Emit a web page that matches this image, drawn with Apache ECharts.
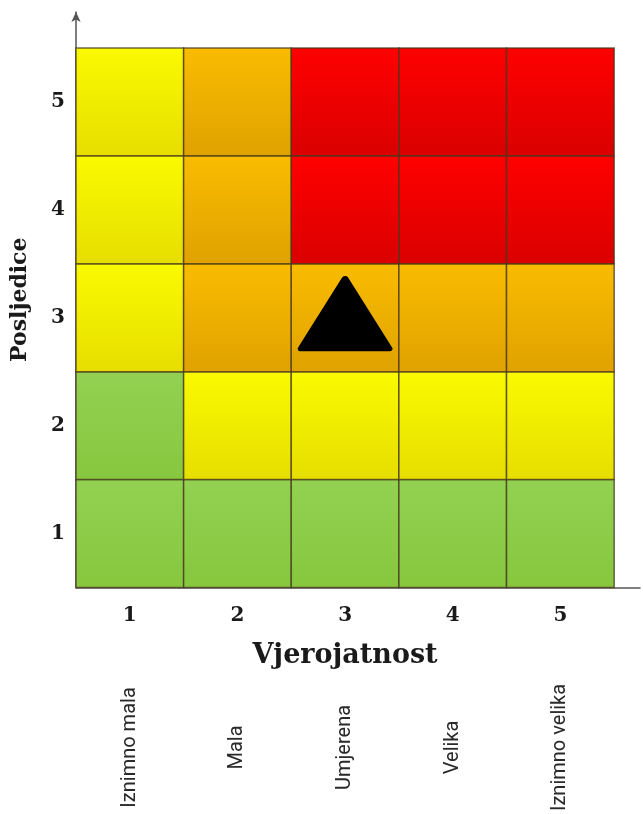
<!DOCTYPE html>
<html>
<head>
<meta charset="utf-8">
<script src="https://cdn.jsdelivr.net/npm/echarts@6/dist/echarts.min.js"></script>
<style>html,body{margin:0;padding:0;background:#fff;}#c{width:643px;height:814px;}</style>
</head>
<body>
<div id="c"></div>
<script>
// ---- data ----
const probabilityTicks = [1, 2, 3, 4, 5];
const consequenceTicks = [1, 2, 3, 4, 5];
const probabilityNames = ['Iznimno mala', 'Mala', 'Umjerena', 'Velika', 'Iznimno velika'];
// risk level per consequence row (1..5), columns = probability 1..5
const rowC1 = ['G', 'G', 'G', 'G', 'G'];
const rowC2 = ['G', 'Y', 'Y', 'Y', 'Y'];
const rowC3 = ['Y', 'O', 'O', 'O', 'O'];
const rowC4 = ['Y', 'O', 'R', 'R', 'R'];
const rowC5 = ['Y', 'O', 'R', 'R', 'R'];
const markerPoints = [[3, 3]];

const levelRows = [rowC1, rowC2, rowC3, rowC4, rowC5];
const cells = [];
levelRows.forEach((row, ci) => row.forEach((lvl, pi) => cells.push([probabilityTicks[pi], consequenceTicks[ci], lvl])));

const grad = (a, b) => new echarts.graphic.LinearGradient(0, 0, 0, 1, [{offset: 0, color: a}, {offset: 1, color: b}]);
const fills = {
  G: grad('#93d152', '#86c73e'),
  Y: grad('#fafa00', '#e6de00'),
  O: grad('#fabc00', '#dfa200'),
  R: grad('#ff0000', '#da0000')
};

const chart = echarts.init(document.getElementById('c'), null, {renderer: 'canvas'});
const serif = 'DejaVu Serif';
chart.setOption({
  animation: false,
  backgroundColor: '#fff',
  grid: {left: 76, right: 3, top: 12, bottom: 226, containLabel: false},
  xAxis: [{
    type: 'value', min: 0.5, max: 5.74,
    axisLine: {show: true, lineStyle: {color: '#555', width: 1.5}},
    axisTick: {show: false}, splitLine: {show: false},
    axisLabel: {customValues: probabilityTicks, margin: 18, fontFamily: serif, fontWeight: 'bold', fontSize: 20, color: '#1a1a1a'},
    name: 'Vjerojatnost', nameLocation: 'middle', nameGap: 55,
    nameTextStyle: {fontFamily: serif, fontWeight: 'bold', fontSize: 27, color: '#1a1a1a', padding: [0, 26, 0, 0]}
  }, {
    type: 'value', min: 0.5, max: 5.74, position: 'bottom',
    axisLine: {show: false}, axisTick: {show: false}, splitLine: {show: false},
    axisLabel: {
      customValues: probabilityTicks, rotate: 90, margin: 160, align: 'center', verticalAlign: 'middle',
      fontFamily: 'Roboto', fontSize: 20, color: '#2a2a2a',
      formatter: v => probabilityNames[probabilityTicks.indexOf(v)]
    }
  }],
  yAxis: {
    type: 'value', min: 0.5, max: 5.833,
    axisLine: {show: true, symbol: ['none', 'arrow'], symbolSize: [7, 10], lineStyle: {color: '#555', width: 1.5}},
    axisTick: {show: false}, splitLine: {show: false},
    axisLabel: {customValues: consequenceTicks, margin: 11, fontFamily: serif, fontWeight: 'bold', fontSize: 20, color: '#1a1a1a'},
    name: 'Posljedice', nameLocation: 'middle', nameGap: 45,
    nameTextStyle: {fontFamily: serif, fontWeight: 'bold', fontSize: 22, color: '#1a1a1a'}
  },
  series: [{
    type: 'custom',
    data: cells,
    renderItem: (params, api) => {
      const x = api.value(0), y = api.value(1);
      const p1 = api.coord([x - 0.5, y + 0.5]);
      const p2 = api.coord([x + 0.5, y - 0.5]);
      const lvl = cells[params.dataIndex][2];
      return {
        type: 'rect',
        shape: {x: p1[0], y: p1[1], width: p2[0] - p1[0], height: p2[1] - p1[1]},
        style: {fill: fills[lvl], stroke: 'rgba(70,55,30,0.75)', lineWidth: 1.5}
      };
    }
  }, {
    type: 'scatter',
    data: markerPoints,
    symbol: 'triangle',
    symbolSize: [88, 70],
    symbolOffset: [0, -4],
    itemStyle: {color: '#000', borderColor: '#000', borderWidth: 6, borderJoin: 'round', opacity: 1},
    z: 5
  }]
});
</script>
</body>
</html>
